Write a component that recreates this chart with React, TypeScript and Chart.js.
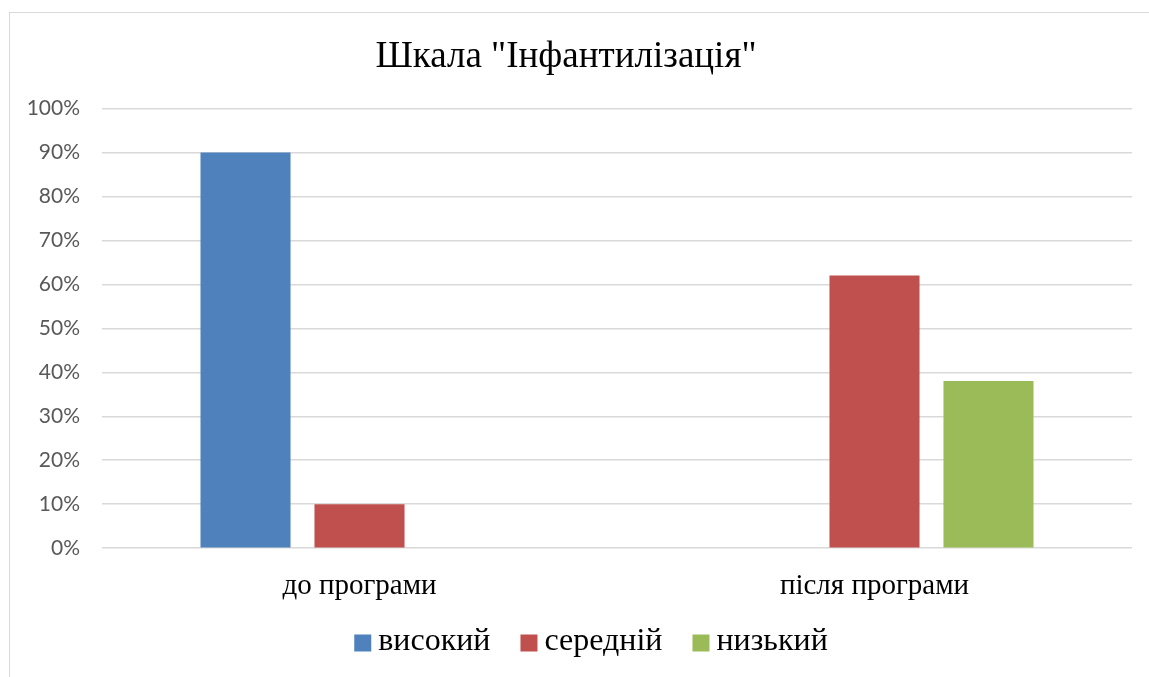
import React, { useEffect, useRef } from "react";
import { Chart, registerables } from "chart.js";

Chart.register(...registerables);

const categories = ["до програми", "після програми"];
const seriesNames = ["високий", "середній", "низький"];
const highValues = [90, 0];
const midValues = [10, 62];
const lowValues = [0, 38];
const seriesColors = ["#4F81BD", "#C0504D", "#9BBB59"];
const titleText = 'Шкала "Інфантилізація"';

const LEGEND_FONT = "32px 'Liberation Serif', serif";
const LEGEND_BOX = 17;
const LEGEND_BOX_GAP = 7;
const LEGEND_ITEM_GAP = 30;
const LEGEND_CENTER_X = 591;
const LEGEND_CENTER_Y = 643;

const bottomLegend = {
  id: "bottomLegend",
  afterDraw(chart: any) {
    const ctx = chart.ctx;
    ctx.save();
    ctx.font = LEGEND_FONT;
    const items = chart.data.datasets.map((d: any) => ({ text: d.label, color: d.backgroundColor }));
    const widths = items.map((it: any) => LEGEND_BOX + LEGEND_BOX_GAP + ctx.measureText(it.text).width);
    const total = widths.reduce((a: number, b: number) => a + b, 0) + LEGEND_ITEM_GAP * (items.length - 1);
    let x = LEGEND_CENTER_X - total / 2;
    items.forEach((it: any, i: number) => {
      ctx.fillStyle = it.color;
      ctx.fillRect(x, LEGEND_CENTER_Y - LEGEND_BOX / 2, LEGEND_BOX, LEGEND_BOX);
      ctx.fillStyle = "#000000";
      ctx.textAlign = "left";
      ctx.textBaseline = "middle";
      ctx.fillText(it.text, x + LEGEND_BOX + LEGEND_BOX_GAP, LEGEND_CENTER_Y - 1);
      x += widths[i] + LEGEND_ITEM_GAP;
    });
    ctx.restore();
  },
};

export default function App() {
  const ref = useRef<HTMLCanvasElement | null>(null);

  useEffect(() => {
    if (!ref.current) return;
    const values = [highValues, midValues, lowValues];
    const chart = new Chart(ref.current, {
      type: "bar",
      data: {
        labels: categories,
        datasets: seriesNames.map((name, i) => ({
          label: name,
          data: values[i],
          backgroundColor: seriesColors[i],
          borderWidth: 0,
          categoryPercentage: 0.664,
          barPercentage: 0.79,
        })),
      },
      plugins: [bottomLegend],
      options: {
        responsive: false,
        animation: false,
        layout: { padding: { top: 35, left: 0, right: 17, bottom: 52 } },
        plugins: {
          title: {
            display: true,
            text: titleText,
            color: "#000000",
            font: { family: "'Liberation Serif', serif", size: 37, weight: "normal" },
            padding: { top: 0, bottom: 29 },
          },
          legend: { display: false },
          tooltip: { enabled: false },
        },
        scales: {
          x: {
            grid: { display: false, drawTicks: false },
            border: { display: false },
            ticks: {
              color: "#000000",
              padding: 21,
              font: { family: "'Liberation Serif', serif", size: 29 },
            },
          },
          y: {
            min: 0,
            max: 100,
            ticks: {
              stepSize: 10,
              color: "#595959",
              padding: 22,
              font: { family: "Lato, sans-serif", size: 21 },
              callback: (v: any) => v + "%",
            },
            grid: { color: "#D9D9D9", lineWidth: 1.5, drawTicks: false },
            border: { display: false },
            afterFit: (s: any) => {
              s.width = 102;
            },
          },
        },
      },
    });
    return () => chart.destroy();
  }, []);

  return (
    <div style={{ position: "fixed", left: 0, top: 0, width: 1149, height: 677, overflow: "hidden", background: "#fff" }}>
      <div
        style={{
          position: "absolute",
          left: 9,
          top: 12,
          width: 1300,
          height: 800,
          border: "1.5px solid #D9D9D9",
          boxSizing: "border-box",
        }}
      />
      <canvas ref={ref} width={1149} height={677} style={{ position: "absolute", left: 0, top: 0 }} />
    </div>
  );
}
